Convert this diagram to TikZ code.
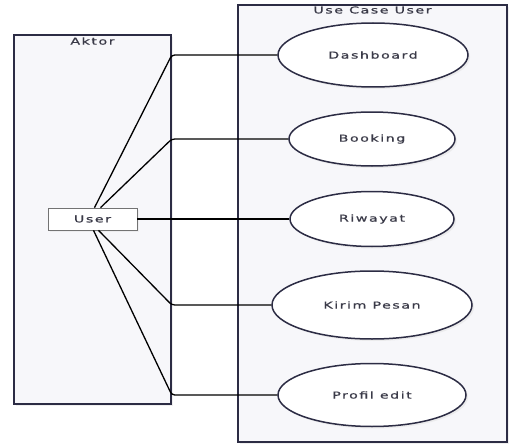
\documentclass[tikz,border=0pt]{standalone}
\usepackage{fontspec}
\usetikzlibrary{shapes.geometric,shadows}
\newfontfamily\ucfont[FakeStretch=1.5,LetterSpace=16,FakeBold=0.8]{DejaVu Sans}
\definecolor{ucline}{HTML}{2C2C44}
\definecolor{ucfill}{HTML}{F7F7FA}
\definecolor{uctext}{HTML}{3A3A48}
\tikzset{
  frame/.style={draw=ucline, line width=1.6pt, fill=ucfill, rectangle,
    drop shadow={shadow xshift=2pt, shadow yshift=-2pt, fill=black!12}},
  usecase/.style={draw=ucline, line width=1.5pt, fill=white, ellipse,
    inner sep=0pt, text=uctext, font=\ucfont\fontsize{9.5}{11}\selectfont,
    drop shadow={shadow xshift=2pt, shadow yshift=-2pt, fill=black!12}},
  actorbox/.style={draw=black!55, line width=0.7pt, fill=white, rectangle,
    text=uctext, font=\ucfont\fontsize{9.5}{11}\selectfont,
    minimum width=89pt, minimum height=22pt, inner sep=0pt,
    drop shadow={shadow xshift=1.5pt, shadow yshift=-1.5pt, fill=black!10}},
  title/.style={text=uctext, font=\ucfont\fontsize{9.5}{11}\selectfont, inner sep=1pt},
  assoc/.style={draw=black, line width=1.3pt, rounded corners=3pt}
}
\begin{document}
\begin{tikzpicture}[x=1pt,y=-1pt]
  \useasboundingbox (0,0) rectangle (509,444);
  % frames
  \node[frame, minimum width=157pt, minimum height=369pt] (aktor) at (92.5,219.5) {};
  \node[frame, minimum width=269pt, minimum height=437pt] (system) at (372.5,223.5) {};
  \node[title, anchor=north] (aktortitle) at ([yshift=-2pt]aktor.north) {Aktor};
  \node[title, anchor=north] (systemtitle) at ([yshift=-1pt]system.north) {Use Case User};
  % actor
  \node[actorbox] (user) at (92.5,219) {User};
  % use cases
  \node[usecase, minimum width=190pt, minimum height=64pt] (dash) at (373,55) {Dashboard};
  \node[usecase, minimum width=166pt, minimum height=54pt] (book) at (372,139) {Booking};
  \node[usecase, minimum width=164pt, minimum height=55pt] (riw) at (372,219) {Riwayat};
  \node[usecase, minimum width=200pt, minimum height=68pt] (kirim) at (372,305) {Kirim Pesan};
  \node[usecase, minimum width=188pt, minimum height=63pt] (prof) at (372,395) {Profil edit};
  % associations
  \draw[assoc] ([xshift=2pt]user.north) -- (aktor.east |- dash.west) -- (dash.west);
  \draw[assoc] ([xshift=8pt]user.north) -- (aktor.east |- book.west) -- (book.west);
  \draw[assoc] (user.east) -- (riw.west);
  \draw[assoc] ([xshift=6pt]user.south) -- (aktor.east |- kirim.west) -- (kirim.west);
  \draw[assoc] ([xshift=1pt]user.south) -- (aktor.east |- prof.west) -- (prof.west);
\end{tikzpicture}
\end{document}
